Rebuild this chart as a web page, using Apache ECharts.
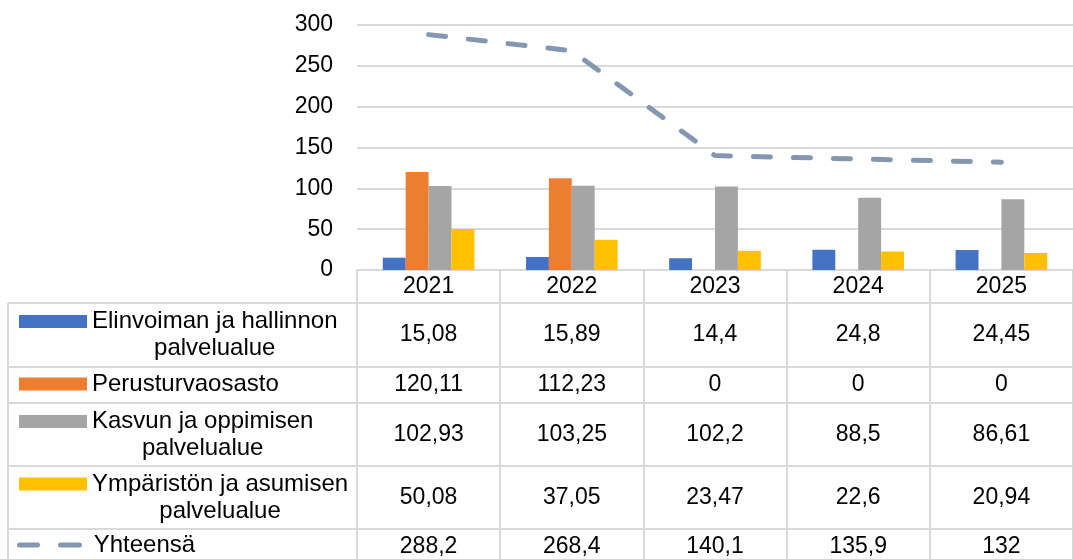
<!DOCTYPE html>
<html>
<head>
<meta charset="utf-8">
<script src="https://cdn.jsdelivr.net/npm/echarts@6/dist/echarts.min.js"></script>
<style>html,body{margin:0;padding:0;background:#fff}#c{width:1073px;height:559px}</style>
</head>
<body>
<div id="c"></div>
<script>
// ---- data ----
const years = ['2021', '2022', '2023', '2024', '2025'];
const elinvoima = [15.08, 15.89, 14.4, 24.8, 24.45];
const perusturva = [120.11, 112.23, 0, 0, 0];
const kasvu = [102.93, 103.25, 102.2, 88.5, 86.61];
const ymparisto = [50.08, 37.05, 23.47, 22.6, 20.94];
const yhteensa = [288.2, 268.4, 140.1, 135.9, 132];
const seriesNames = ['Elinvoiman ja hallinnon palvelualue', 'Perusturvaosasto', 'Kasvun ja oppimisen palvelualue', 'Ympäristön ja asumisen palvelualue', 'Yhteensä'];
const seriesLabelLines = [['Elinvoiman ja hallinnon', 'palvelualue'], ['Perusturvaosasto'], ['Kasvun ja oppimisen', 'palvelualue'], ['Ympäristön ja asumisen', 'palvelualue'], ['\u00a0Yhteensä']];
const yTicks = {min: 0, max: 300, interval: 50};

// ---- styles / layout ----
const FONT = "'Liberation Sans', Arial, sans-serif";
const FS = 23;
const FSL = 24;
const GRIDC = '#d9d9d9';
const colors = ['#4472C4', '#ED7D31', '#A5A5A5', '#FFC000', '#8497B0'];
const rowCenters = [335, 385, 434.5, 497.5, 547];
const rowLines = [303, 367, 403, 466, 529];
const legendTops = [281, 370.5, 381, 443.5, 531.5];
const axisY = 270;
const allValues = [elinvoima, perusturva, kasvu, ymparisto, yhteensa];
const fmt = v => String(v).replace('.', ',');
const dashIcon = 'path://M2.5,0H20.5A2.5,2.5,0,0,1,20.5,5H2.5A2.5,2.5,0,0,1,2.5,0Z M43.5,0H62.5A2.5,2.5,0,0,1,62.5,5H43.5A2.5,2.5,0,0,1,43.5,0Z';

const chart = echarts.init(document.getElementById('c'), null, {renderer: 'canvas'});

const xAxes = [{
  type: 'category', data: years, gridIndex: 0, position: 'bottom',
  axisLine: {show: true, lineStyle: {color: GRIDC, width: 2}},
  axisTick: {show: true, alignWithLabel: false, length: 300, lineStyle: {color: GRIDC, width: 2}},
  axisLabel: {color: '#000', fontSize: FS, fontFamily: FONT, margin: 17, verticalAlign: 'middle'}
}];
allValues.forEach((arr, r) => {
  xAxes.push({
    type: 'category', data: years, gridIndex: 0, position: 'bottom',
    offset: rowCenters[r] - axisY,
    axisLine: {show: false}, axisTick: {show: false}, splitLine: {show: false},
    axisLabel: {color: '#000', fontSize: FS, fontFamily: FONT, margin: 0, verticalAlign: 'middle',
      formatter: (v, i) => fmt(arr[i])}
  });
});

const legends = seriesNames.map((name, i) => {
  const lines = seriesLabelLines[i];
  const txt = lines.length > 1 ? ['{c|\u00a0}'].concat(lines.map(l => '{c|' + l + '}')).join('\n') : '{c|' + lines[0] + '}';
  const isLine = i === 4;
  return {
    data: [{name: name, icon: isLine ? dashIcon : 'rect'}],
    left: isLine ? 17 : 19, top: legendTops[i], padding: 0, orient: 'vertical',
    itemWidth: isLine ? 65 : 68, itemHeight: isLine ? 5 : 13, selectedMode: false,
    formatter: () => txt,
    textStyle: {color: '#000', fontSize: FSL, fontFamily: FONT, lineHeight: 27,
      rich: {c: {align: 'center', color: '#000', fontSize: FSL, fontFamily: FONT, lineHeight: 27}}}
  };
});

const barSeries = [elinvoima, perusturva, kasvu, ymparisto].map((d, i) => ({
  name: seriesNames[i], type: 'bar', data: d, xAxisIndex: 0,
  barCategoryGap: '36%', barGap: '0%',
  itemStyle: {color: colors[i]}
}));

const graphics = rowLines.map(y => ({
  type: 'line', silent: true, shape: {x1: 8, y1: y, x2: 1073, y2: y},
  style: {stroke: GRIDC, lineWidth: 2}
}));
graphics.push({type: 'line', silent: true, shape: {x1: 8, y1: 303, x2: 8, y2: 559}, style: {stroke: GRIDC, lineWidth: 2}});

chart.setOption({
  animation: false,
  grid: {left: 357, right: -13, top: 25, bottom: 559 - axisY, containLabel: false},
  xAxis: xAxes,
  yAxis: {
    type: 'value', min: yTicks.min, max: yTicks.max, interval: yTicks.interval,
    axisLine: {show: false}, axisTick: {show: false},
    splitLine: {lineStyle: {color: GRIDC, width: 2}},
    axisLabel: {color: '#000', fontSize: FS, fontFamily: FONT, margin: 24}
  },
  legend: legends,
  series: barSeries.concat([{
    name: seriesNames[4], type: 'line', data: yhteensa, xAxisIndex: 0,
    symbol: 'none', showSymbol: false,
    lineStyle: {color: colors[4], width: 5, type: [17, 23], cap: 'round'},
    itemStyle: {color: colors[4]}
  }]),
  graphic: graphics
});
</script>
</body>
</html>
